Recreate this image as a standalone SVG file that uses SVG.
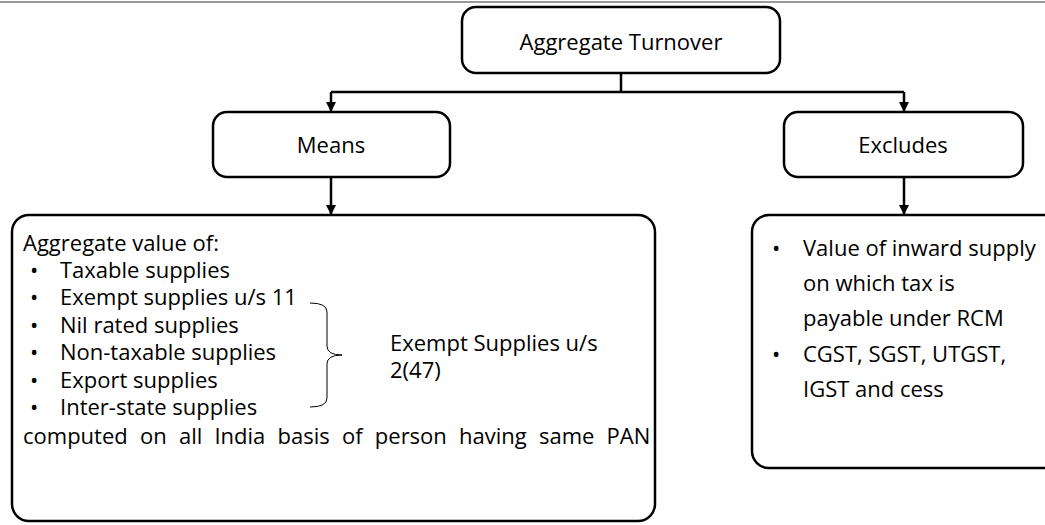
<svg xmlns="http://www.w3.org/2000/svg" width="1045" height="525" viewBox="0 0 1045 525">
<style>
.box{fill:#fff;stroke:#000;stroke-width:2.5}
.t{font-family:"Open Sans","Noto Sans",sans-serif;font-size:22px;fill:#000}
.c{text-anchor:middle;dominant-baseline:central}
.ln{fill:none;stroke:#000;stroke-width:2.5}
</style>
<defs>
<marker id="ah" viewBox="0 0 10 10" refX="10" refY="5" markerWidth="4" markerHeight="4" orient="auto" markerUnits="strokeWidth">
<path d="M0,0 L10,5 L0,10 z" fill="#000"/>
</marker>
</defs>
<rect x="0" y="0" width="1045" height="525" fill="#fff"/>
<line x1="0" y1="2" x2="1045" y2="2" stroke="#777" stroke-width="1.5"/>
<g id="connectors">
<path class="ln" d="M621,73 L621,92"/>
<path class="ln" d="M331,92 L904,92"/>
<path class="ln" d="M331,92 L331,112" marker-end="url(#ah)"/>
<path class="ln" d="M904,92 L904,112" marker-end="url(#ah)"/>
<path class="ln" d="M331,177 L331,215" marker-end="url(#ah)"/>
<path class="ln" d="M904,177 L904,215" marker-end="url(#ah)"/>
</g>
<g id="node-top">
<rect class="box" x="462" y="7" width="318" height="66" rx="14"/>
<text class="t c" x="621" y="41">Aggregate Turnover</text>
</g>
<g id="node-means">
<rect class="box" x="213" y="112" width="237" height="65" rx="14"/>
<text class="t c" x="331" y="144">Means</text>
</g>
<g id="node-excludes">
<rect class="box" x="784" y="112" width="239" height="65" rx="14"/>
<text class="t c" x="903" y="144">Excludes</text>
</g>
<g id="node-means-detail">
<rect class="box" x="12" y="215" width="643" height="306" rx="17"/>
<text class="t" x="23" y="251">Aggregate value of:</text>
<text class="t" x="30" y="278">•</text><text class="t" x="60" y="278">Taxable supplies</text>
<text class="t" x="30" y="305">•</text><text class="t" x="60" y="305">Exempt supplies u/s 11</text>
<text class="t" x="30" y="333">•</text><text class="t" x="60" y="333">Nil rated supplies</text>
<text class="t" x="30" y="360">•</text><text class="t" x="60" y="360">Non-taxable supplies</text>
<text class="t" x="30" y="388">•</text><text class="t" x="60" y="388">Export supplies</text>
<text class="t" x="30" y="415">•</text><text class="t" x="60" y="415">Inter-state supplies</text>
<text class="t" x="23" y="444" word-spacing="6.5">computed on all India basis of person having same PAN</text>
<path d="M310,303 Q327,303 327,312 L327,346 Q327,355 342,355 Q327,355 327,364 L327,398 Q327,407 310,407" fill="none" stroke="#000" stroke-width="1"/>
<text class="t" x="390" y="351">Exempt Supplies u/s</text>
<text class="t" x="390" y="378">2(47)</text>
</g>
<g id="node-excludes-detail">
<rect class="box" x="752" y="215" width="310" height="253" rx="17"/>
<text class="t" x="772" y="256">•</text><text class="t" x="803" y="256">Value of inward supply</text>
<text class="t" x="803" y="291">on which tax is</text>
<text class="t" x="803" y="326">payable under RCM</text>
<text class="t" x="772" y="362">•</text><text class="t" x="803" y="362">CGST, SGST, UTGST,</text>
<text class="t" x="803" y="397">IGST and cess</text>
</g>
</svg>
